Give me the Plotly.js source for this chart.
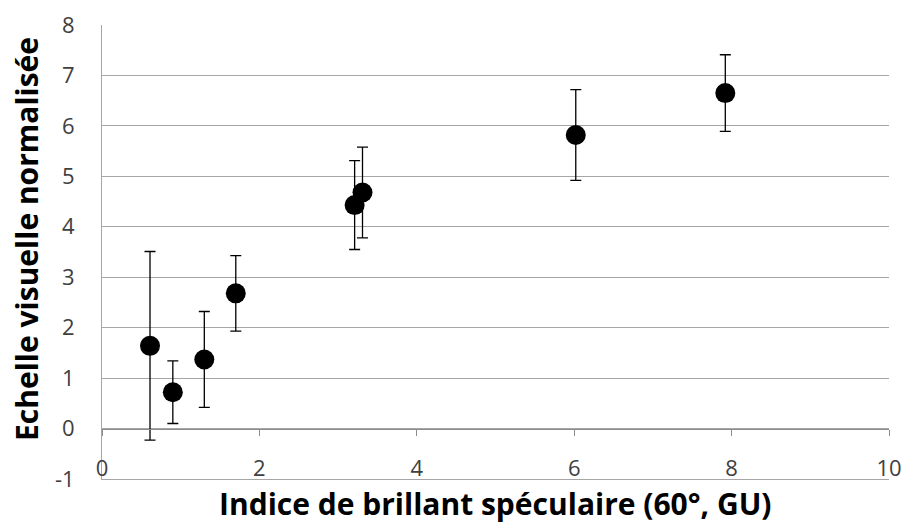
<!DOCTYPE html>
<html><head><meta charset="utf-8">
<script src="https://cdn.plot.ly/plotly-3.0.1.min.js"></script>
<style>body{margin:0;background:#fff}#chart{width:906px;height:524px}</style>
</head><body><div id="chart"></div>
<script>
const glossIndex = [0.61, 0.90, 1.30, 1.70, 3.21, 3.31, 6.02, 7.92];
const visualScale = [1.64, 0.72, 1.37, 2.68, 4.43, 4.68, 5.82, 6.65];
const errorSize = [1.87, 0.62, 0.95, 0.75, 0.88, 0.90, 0.90, 0.76];
const xTicks = [0, 2, 4, 6, 8, 10];
const yTicks = [-1, 0, 1, 2, 3, 4, 5, 6, 7, 8];
const xTitle = "Indice de brillant spéculaire (60°, GU)";
const yTitle = "Echelle visuelle normalisée";

const trace = {
  type: 'scatter', mode: 'markers',
  x: glossIndex, y: visualScale,
  marker: {color: '#000', size: 20},
  error_y: {type: 'data', array: errorSize, visible: true, color: '#000', thickness: 1.3, width: 5.5},
  showlegend: false, hoverinfo: 'none'
};
// invisible trace on xaxis2 so the crossing axis at y=0 (with its labels) is drawn
const axisTrace = {type:'scatter', mode:'none', x:[0,10], y:[0,0], xaxis:'x2', yaxis:'y', showlegend:false, hoverinfo:'none'};

const tickFont = {size: 22, color: '#404040', family: '"Open Sans", sans-serif'};
const titleFont = {size: 30, color: '#000', family: '"Open Sans", sans-serif', weight: 'bold'};

const layout = {
  width: 906, height: 524,
  margin: {l: 102, r: 17, t: 25, b: 45},
  paper_bgcolor: '#fff', plot_bgcolor: '#fff',
  font: {family: '"Open Sans", sans-serif', color: '#404040'},
  xaxis: {
    range: [0, 10], tickvals: xTicks, showticklabels: false,
    showgrid: false, zeroline: false, showline: true, linecolor: '#a6a6a6', linewidth: 1,
    ticks: '', automargin: false
  },
  xaxis2: {
    range: [0, 10], overlaying: 'x', anchor: 'free', position: 1/9, side: 'bottom',
    tickvals: xTicks, ticktext: xTicks.map(String), tickfont: tickFont,
    showgrid: false, zeroline: false, automargin: false,
    showline: true, linecolor: '#8c8c8c', linewidth: 1, ticks: 'outside', ticklen: 6, tickcolor: '#8c8c8c',
    ticklabelstandoff: 14
  },
  yaxis: {
    range: [-1, 8], tickvals: yTicks, ticktext: yTicks.map(String),
    showgrid: true, gridcolor: '#a6a6a6', gridwidth: 1, zeroline: false,
    showline: true, linecolor: '#a6a6a6', linewidth: 1, ticks: '',
    tickfont: tickFont, ticklabelstandoff: 22, automargin: false
  },
  annotations: [
    {text: xTitle, xref: 'paper', yref: 'paper', x: 0.5, y: (479 - 503) / 454,
     xanchor: 'center', yanchor: 'middle', showarrow: false, font: titleFont},
    {text: yTitle, xref: 'paper', yref: 'paper', x: (26 - 102) / 787, y: (479 - 239) / 454,
     xanchor: 'center', yanchor: 'middle', textangle: -90, showarrow: false, font: titleFont}
  ]
};
Plotly.newPlot('chart', [axisTrace, trace], layout, {staticPlot: true, displayModeBar: false});
</script></body></html>
